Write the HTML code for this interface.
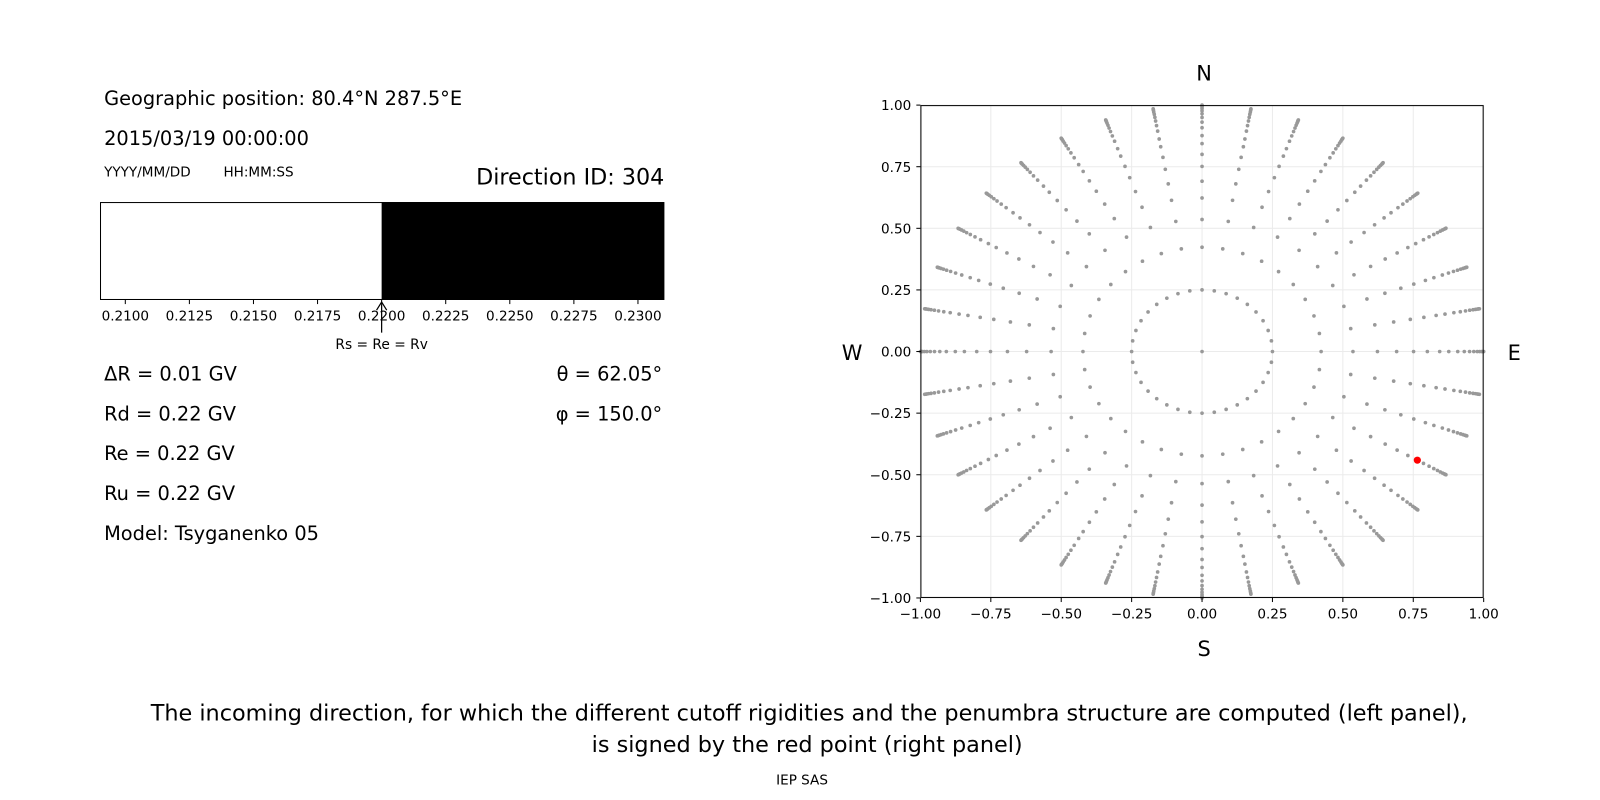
<!DOCTYPE html>
<html><head><meta charset="utf-8"><style>
html,body{margin:0;padding:0;background:#fff;}
svg{display:block;font-family:"DejaVu Sans","Liberation Sans",sans-serif;}
</style></head><body>
<svg width="1600" height="800" xmlns="http://www.w3.org/2000/svg">
<rect width="1600" height="800" fill="#fff"/>
<g transform="scale(1.020408)">
<g font-size="19" fill="#000">
<text x="102" y="103">Geographic position: 80.4°N 287.5°E</text>
<text x="102" y="142">2015/03/19 00:00:00</text>
<text x="102" y="373">ΔR = 0.01 GV</text>
<text x="102" y="412">Rd = 0.22 GV</text>
<text x="102" y="451">Re = 0.22 GV</text>
<text x="102" y="490">Ru = 0.22 GV</text>
<text x="102" y="529">Model: Tsyganenko 05</text>
<text x="649" y="373" text-anchor="end">θ = 62.05°</text>
<text x="649" y="412" text-anchor="end">φ = 150.0°</text>
</g>
<text x="102" y="173" font-size="13.3">YYYY/MM/DD</text>
<text x="219" y="173" font-size="13.3">HH:MM:SS</text>
<text x="651" y="181" font-size="21.8" text-anchor="end">Direction ID: 304</text>
<rect x="374" y="198" width="277" height="96" fill="#000"/>
<rect x="98.5" y="198.5" width="552" height="95" fill="none" stroke="#000" stroke-width="1"/>
<g id="bt" font-size="13.3" text-anchor="middle"></g>
<line x1="374" y1="326" x2="374" y2="298" stroke="#000" stroke-width="1.2"/>
<path d="M369,304 L374,296 L379,304" fill="none" stroke="#000" stroke-width="1.2"/>
<text x="374" y="342" font-size="13.5" text-anchor="middle">Rs = Re = Rv</text>

<g id="grid" stroke="#ebebeb" stroke-width="1"></g>
<g id="dots" fill="#999"></g>
<circle cx="1389" cy="451" r="3.5" fill="#ff0000"/>
<rect x="902.5" y="103.5" width="551" height="482" fill="none" stroke="#000" stroke-width="1"/>
<g id="ax" font-size="13.3"></g>
<g font-size="20.5" text-anchor="middle">
<text x="1180" y="79">N</text>
<text x="1180" y="643">S</text>
<text x="835" y="353">W</text>
<text x="1484" y="353">E</text>
</g>
<g font-size="21.9" text-anchor="middle">
<text x="793" y="706">The incoming direction, for which the different cutoff rigidities and the penumbra structure are computed (left panel),</text>
<text x="791" y="737">is signed by the red point (right panel)</text>
</g>
<text x="786" y="769" font-size="13.3" text-anchor="middle">IEP SAS</text>
</g>
</svg>
<script>
var NS="http://www.w3.org/2000/svg";
function el(p,t,a,txt){var e=document.createElementNS(NS,t);for(var k in a)e.setAttribute(k,a[k]);if(txt!==undefined)e.textContent=txt;p.appendChild(e);return e;}
var bt=document.getElementById('bt');
for(var i=0;i<9;i++){var x=374+(i-4)*62.8;el(bt,'line',{x1:x,y1:294,x2:x,y2:298,stroke:'#000'});
el(bt,'text',{x:x,y:314},(0.21+i*0.0025).toFixed(4));}
var cx=1178,cy=344.5,sx=276,sy=241.5;
var g=document.getElementById('grid'),ax=document.getElementById('ax');
var labs=['−1.00','−0.75','−0.50','−0.25','0.00','0.25','0.50','0.75','1.00'];
for(var i=0;i<9;i++){var v=-1+i*0.25;var x=cx+v*sx,y=cy-v*sy;
el(g,'line',{x1:x,y1:103,x2:x,y2:586});el(g,'line',{x1:902,y1:y,x2:1454,y2:y});
el(ax,'line',{x1:x,y1:586,x2:x,y2:590,stroke:'#000'});el(ax,'text',{x:x,y:606,'text-anchor':'middle'},labs[i]);
el(ax,'line',{x1:898,y1:y,x2:902,y2:y,stroke:'#000'});el(ax,'text',{x:893,y:y+5,'text-anchor':'end'},labs[i]);}
var d=document.getElementById('dots');
var R=[0.25,0.423,0.536,0.623,0.691,0.751,0.80,0.844,0.876,0.908,0.931,0.950,0.965,0.977,0.986,0.993,0.997,1.0];
el(d,'circle',{cx:cx,cy:cy,r:1.8});
for(var a=0;a<36;a++){var t=a*Math.PI/18;for(var j=0;j<R.length;j++){
el(d,'circle',{cx:(cx+R[j]*Math.sin(t)*sx).toFixed(1),cy:(cy-R[j]*Math.cos(t)*sy).toFixed(1),r:1.8});}}
</script>
</body></html>
